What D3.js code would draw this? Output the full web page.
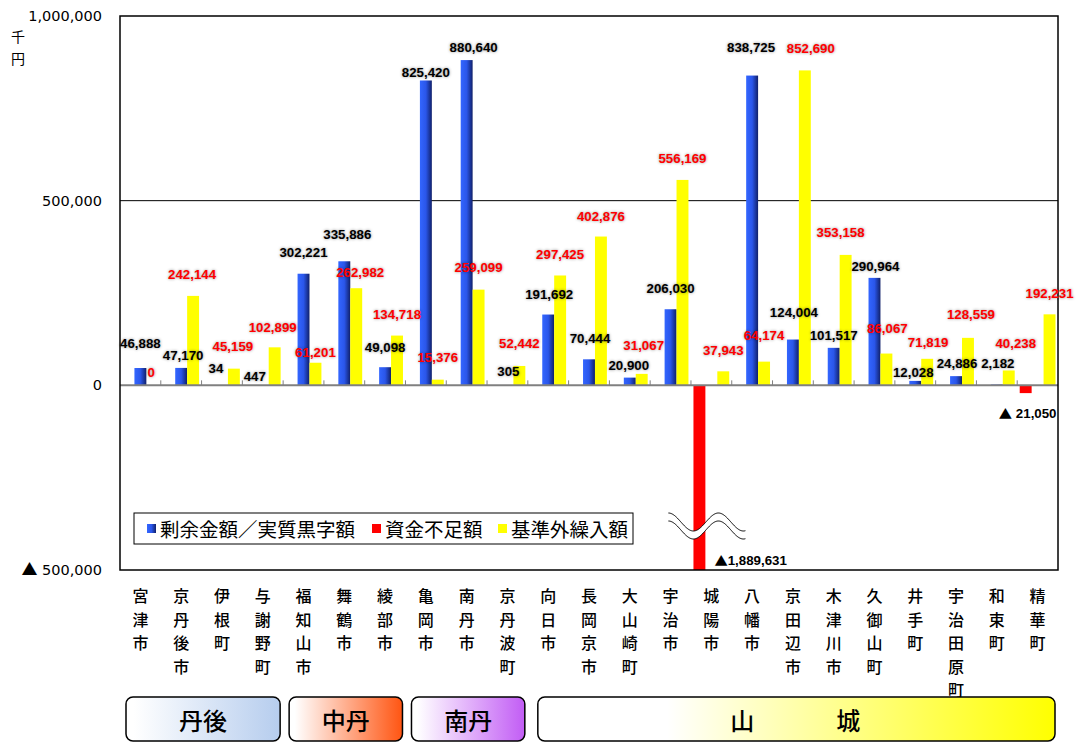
<!DOCTYPE html>
<html>
<head>
<meta charset="utf-8">
<script src="https://cdn.jsdelivr.net/npm/d3@7/dist/d3.min.js"></script>
<style>
  body { margin: 0; background: #fff; }
  svg { display: block; }
  .val { font-family: "Liberation Sans", Arial, sans-serif; font-weight: bold; font-size: 13.3px;
         text-shadow: 0 0 3px rgba(0,0,0,0.45); }
  .jp { font-family: "Noto Sans CJK JP", sans-serif; }
  .tri { font-family: "Noto Sans CJK JP", sans-serif; font-weight: normal; }
</style>
</head>
<body>
<div id="container"></div>
<script>
/* DATA */
const cities = ["宮津市","京丹後市","伊根町","与謝野町","福知山市","舞鶴市","綾部市","亀岡市","南丹市","京丹波町",
  "向日市","長岡京市","大山崎町","宇治市","城陽市","八幡市","京田辺市","木津川市","久御山町","井手町","宇治田原町","和束町","精華町"]
// 剰余金額／実質黒字額 (千円)
const surplus = [46888,47170,34,447,302221,335886,49098,825420,880640,305,
  191692,70444,20900,206030,null,838725,124004,101517,290964,12028,24886,2182,null]
// 資金不足額
const deficit = [null,null,null,null,null,null,null,null,null,null,
  null,null,null,null,-1889631,null,null,null,null,null,null,null,-21050]
// 基準外繰入額
const extra = [0,242144,45159,102899,61201,262982,134718,15376,259099,52442,
  297425,402876,31067,556169,37943,64174,852690,353158,86067,71819,128559,40238,192231]
const seriesNames = ["剰余金額／実質黒字額","資金不足額","基準外繰入額"]
const yTicks = [-500000, 0, 500000, 1000000]
const regions = ["丹後","中丹","南丹","山城"]
const regionFirst = [0,4,7,10]
const regionLast = [3,6,9,22]

/* CONSTANTS AND GLOBALS */
const width = 1076, height = 742,
  margin = { top: 16, bottom: 172, left: 120, right: 18 };

// hand placement of value labels (dx, dy from bar end), like the original
const surplusShift = [[0,-25],[2,-12],[-6,-17],[-8,-9],[0,-21],[3,-27],[0,-20],[0,-8],[7,-13],[1,-14],
  [1,-20],[1,-21],[-1,-12],[0,-21],null,[-1,-28],[1,-27],[0,-12],[1,-11],[-2,-8],[1,-13],[1,-21],null]
const extraShift = [[-1,-13],[-1,-21],[-1,-22],[-2,-20],[0,-10],[4,-16],[0,-21],[0,-22],[0,-22],[0,-22],
  [0,-21],[0,-20],[2,-28],[0,-21],[0,-21],[0,-26],[6,-22],[-5,-22],[1,-25],[1,-16],[3,-23],[7,-27],[0,-21]]

const fmt = d3.format(",")

/* SCALES */
const x0 = d3.scaleBand()
  .domain(cities)
  .range([margin.left, width - margin.right])
  .padding(0)

const x1 = d3.scaleBand()
  .domain(["deficit", "surplus", "extra"])
  .range([2.5, x0.bandwidth() - 2.5])

const y = d3.scaleLinear()
  .domain([-500000, 1000000])
  .range([height - margin.bottom, margin.top])

/* SVG */
const svg = d3.select("#container")
  .append("svg")
  .attr("width", width)
  .attr("height", height)

const defs = svg.append("defs")
const blueGrad = defs.append("linearGradient").attr("id", "blueGrad")
blueGrad.append("stop").attr("offset", "0%").attr("stop-color", "#3366ff")
blueGrad.append("stop").attr("offset", "50%").attr("stop-color", "#2a56ea")
blueGrad.append("stop").attr("offset", "100%").attr("stop-color", "#10206a")

defs.append("clipPath").attr("id", "plotClip")
  .append("rect")
  .attr("x", margin.left).attr("y", margin.top)
  .attr("width", width - margin.left - margin.right)
  .attr("height", height - margin.top - margin.bottom)

const regionColors = ["#b6cdee", "#ff5512", "#c25df5", "#ffff00"]
regionColors.forEach((c, i) => {
  const g = defs.append("linearGradient").attr("id", "reg" + i)
  g.append("stop").attr("offset", "0%").attr("stop-color", "#fff")
  g.append("stop").attr("offset", i === 3 ? "25%" : "5%").attr("stop-color", "#fff")
  g.append("stop").attr("offset", "100%").attr("stop-color", c)
})

// gridline at 500,000
svg.append("line")
  .attr("x1", margin.left).attr("x2", width - margin.right)
  .attr("y1", y(500000)).attr("y2", y(500000))
  .attr("stroke", "#000").attr("stroke-width", 1)

/* BARS */
const bars = svg.append("g").attr("clip-path", "url(#plotClip)")

const addBars = (values, key, fill) => {
  bars.append("g")
    .selectAll("rect")
    .data(values.map((v, i) => ({ city: cities[i], v })).filter(d => d.v !== null && d.v !== 0))
    .join("rect")
    .attr("x", d => x0(d.city) + x1(key))
    .attr("width", x1.bandwidth())
    .attr("y", d => y(Math.max(0, d.v)))
    .attr("height", d => Math.abs(y(d.v) - y(0)))
    .attr("fill", fill)
}
addBars(deficit, "deficit", "#ff0000")
addBars(surplus, "surplus", "url(#blueGrad)")
addBars(extra, "extra", "#ffff00")

// zero line and category ticks
svg.append("line")
  .attr("x1", margin.left).attr("x2", width - margin.right)
  .attr("y1", y(0)).attr("y2", y(0))
  .attr("stroke", "#808080").attr("stroke-width", 2)

svg.append("g")
  .selectAll("line")
  .data(cities.slice(1))
  .join("line")
  .attr("x1", d => x0(d)).attr("x2", d => x0(d))
  .attr("y1", y(0) - 5).attr("y2", y(0))
  .attr("stroke", "#808080").attr("stroke-width", 1)

// plot border
svg.append("rect")
  .attr("x", margin.left).attr("y", margin.top)
  .attr("width", width - margin.left - margin.right)
  .attr("height", height - margin.top - margin.bottom)
  .attr("fill", "none").attr("stroke", "#000").attr("stroke-width", 1.5)

/* BREAK MARK on the 城陽市 deficit bar */
const brkCity = cities[deficit.findIndex(d => d !== null && d < -500000)]
const bx = x0(brkCity) + x1("deficit") + x1.bandwidth() / 2
const by = y(-500000) - 44
const wave = d3.range(-31, 47, 1).map(t => [bx + t, by + 9 * Math.sin(2 * Math.PI * (t + 31) / 50 - Math.PI / 2)])
const half = 4
const band = wave.map(p => [p[0], p[1] - half]).concat(wave.slice().reverse().map(p => [p[0], p[1] + half]))
svg.append("path").attr("d", d3.line()(band) + "Z").attr("fill", "#fff")
svg.append("path").attr("d", d3.line()(wave.map(p => [p[0], p[1] - half])))
  .attr("fill", "none").attr("stroke", "#000").attr("stroke-width", 1)
svg.append("path").attr("d", d3.line()(wave.map(p => [p[0], p[1] + half])))
  .attr("fill", "none").attr("stroke", "#000").attr("stroke-width", 1)

/* VALUE LABELS */
const labels = svg.append("g").attr("class", "val")

labels.selectAll("text.s")
  .data(surplus.map((v, i) => ({ city: cities[i], v, s: surplusShift[i] })).filter(d => d.v !== null))
  .join("text")
  .attr("x", d => x0(d.city) + x1("surplus") + x1.bandwidth() / 2 + d.s[0])
  .attr("y", d => y(d.v) + d.s[1])
  .attr("text-anchor", "middle")
  .attr("dominant-baseline", "central")
  .attr("fill", "#000")
  .text(d => fmt(d.v))

labels.selectAll("text.e")
  .data(extra.map((v, i) => ({ city: cities[i], v, s: extraShift[i] })))
  .join("text")
  .attr("x", d => x0(d.city) + x1("extra") + x1.bandwidth() / 2 + d.s[0])
  .attr("y", d => y(d.v) + d.s[1])
  .attr("text-anchor", "middle")
  .attr("dominant-baseline", "central")
  .attr("fill", "#ff0000")
  .text(d => fmt(d.v))

deficit.forEach((v, i) => {
  if (v === null) return
  const cx = x0(cities[i]) + x1("deficit") + x1.bandwidth() / 2
  const big = v < -500000
  const t = labels.append("text")
    .attr("x", big ? cx + 15 : cx + 2)
    .attr("y", big ? y(-500000) - 10 : y(v) + 20)
    .attr("text-anchor", big ? "start" : "middle")
    .attr("dominant-baseline", "central")
    .style("text-shadow", "none")
  t.append("tspan").attr("class", "tri").text("▲")
  t.append("tspan").text((big ? "" : " ") + fmt(-v))
})

/* Y AXIS */
const yAxis = d3.axisLeft(y)
  .tickValues(yTicks)
  .tickSize(0)
  .tickPadding(18)
  .tickFormat(d => d < 0 ? " " + fmt(-d) : fmt(d))
svg.append("g")
  .attr("transform", `translate(${margin.left},0)`)
  .call(yAxis)
  .call(g => g.select(".domain").remove())
  .selectAll("text")
  .attr("fill", "#000")
  .style("font-family", "'DejaVu Sans', sans-serif")
  .style("font-size", "14.5px")
  .each(function(d) {
    if (d < 0) {
      const el = d3.select(this), txt = el.text()
      el.text(null)
      el.append("tspan").attr("class", "tri").style("font-size", "16px").text("▲")
      el.append("tspan").text(txt)
    }
  })

// unit 千円 (vertical)
svg.append("text").attr("class", "jp")
  .attr("x", 18).attr("y", 36)
  .attr("text-anchor", "middle").attr("dominant-baseline", "central")
  .style("font-size", "14px")
  .text("千")
svg.append("text").attr("class", "jp")
  .attr("x", 18).attr("y", 58)
  .attr("text-anchor", "middle").attr("dominant-baseline", "central")
  .style("font-size", "14px")
  .text("円")

/* CATEGORY LABELS (vertical) */
svg.append("g").attr("class", "jp")
  .selectAll("text")
  .data(cities)
  .join("text")
  .attr("dominant-baseline", "central")
  .attr("text-anchor", "middle")
  .style("font-size", "16px")
  .style("font-weight", "500")
  .each(function(d) {
    const cx = x0(d) + x0.bandwidth() / 2
    d3.select(this).selectAll("tspan")
      .data([...d])
      .join("tspan")
      .attr("x", cx)
      .attr("y", (c, i) => 595 + i * 23.5)
      .text(c => c)
  })

/* REGION BOXES */
const regG = svg.append("g")
regions.forEach((r, i) => {
  const xs = x0(cities[regionFirst[i]]) + (i === 3 ? 10 : 6)
  const xe = x0(cities[regionLast[i]]) + x0.bandwidth() - 3
  regG.append("rect")
    .attr("x", xs).attr("y", 697)
    .attr("width", xe - xs).attr("height", 44)
    .attr("rx", 7)
    .attr("fill", `url(#reg${i})`)
    .attr("stroke", "#000").attr("stroke-width", 1.5)
  regG.append("text").attr("class", "jp")
    .attr("x", (xs + xe) / 2).attr("y", 719)
    .attr("text-anchor", "middle").attr("dominant-baseline", "central")
    .style("font-size", "24px")
    .style("font-weight", "500")
    .style("letter-spacing", i === 3 ? "2.5px" : "0px")
    .text(i === 3 ? r[0] + "\u3000\u3000\u3000" + r[1] : r)
})

/* LEGEND */
const legend = svg.append("g").attr("transform", "translate(134,513)")
legend.append("rect")
  .attr("width", 499).attr("height", 31)
  .attr("fill", "#fff").attr("stroke", "#000").attr("stroke-width", 1)

const legendX = [13, 238, 364]
const legendFill = ["url(#blueGrad)", "#ff0000", "#ffff00"]
seriesNames.forEach((s, i) => {
  legend.append("rect")
    .attr("x", legendX[i]).attr("y", 11)
    .attr("width", 9).attr("height", 9)
    .attr("fill", legendFill[i])
  legend.append("text").attr("class", "jp")
    .attr("x", legendX[i] + 13).attr("y", 15.5)
    .attr("dominant-baseline", "central")
    .style("font-size", "19.5px")
    .text(s)
})
</script>
</body>
</html>
